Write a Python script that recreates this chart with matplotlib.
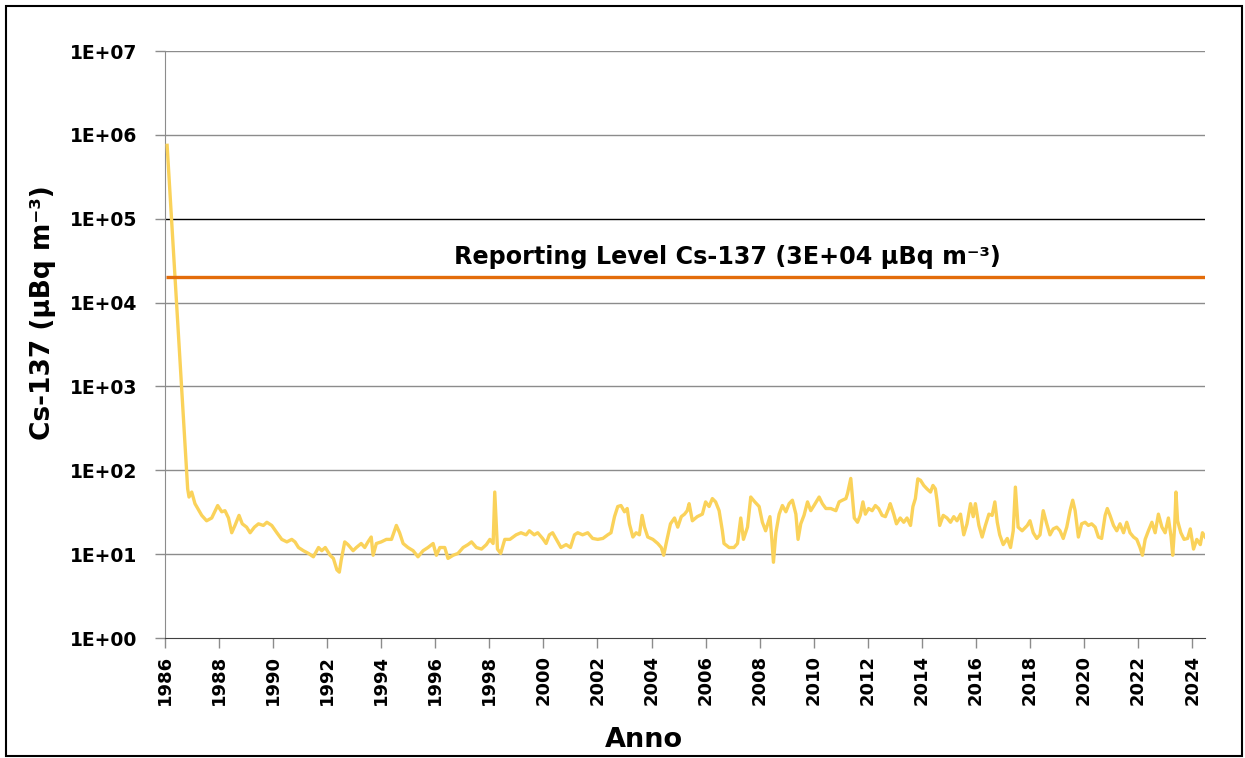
import math
import matplotlib
matplotlib.use("Agg")
import matplotlib.pyplot as plt
from matplotlib.patches import Rectangle
from matplotlib.ticker import FixedLocator, FuncFormatter, NullLocator

# Cs-137 in air (uBq/m3), split by period
anni_a = [1986.08, 1986.84, 1986.89, 1986.99, 1987.11, 1987.36, 1987.54, 1987.73, 1987.95, 1988.10,
          1988.22, 1988.35, 1988.47, 1988.59, 1988.74, 1988.86, 1989.02, 1989.15, 1989.31, 1989.46,
          1989.64, 1989.77, 1989.95, 1990.14, 1990.32, 1990.51, 1990.69, 1990.81, 1990.94, 1991.12,
          1991.31, 1991.49, 1991.68, 1991.80, 1991.93, 1992.11, 1992.23, 1992.36]
cs_a = [750000, 60, 48, 55, 40, 29, 25, 27, 38, 32,
        33, 27, 18, 22, 29, 23, 21, 18, 21, 23,
        22, 24, 22, 18, 15, 14, 15, 14, 12, 11,
        10.2, 9.3, 12, 11, 12, 9.7, 8.9, 6.5]

anni_b = [1992.45, 1992.52, 1992.65, 1992.77, 1992.96, 1993.08, 1993.26, 1993.39, 1993.51, 1993.63,
          1993.70, 1993.82, 1994.00, 1994.19, 1994.38, 1994.56, 1994.68, 1994.81, 1994.99, 1995.18,
          1995.36, 1995.55, 1995.73, 1995.92, 1996.04, 1996.17, 1996.35, 1996.47, 1996.66, 1996.84,
          1997.03, 1997.21, 1997.34, 1997.52, 1997.71, 1997.89, 1998.02, 1998.14, 1998.20, 1998.30,
          1998.42, 1998.57, 1998.76]
cs_b = [6.1, 8.5, 14, 13, 11, 12, 13.4, 12, 14, 16,
        9.7, 13.4, 14, 15, 15, 22, 18, 13.4, 12, 11,
        9.3, 11, 12, 13.4, 9.7, 12, 12, 8.9, 9.7, 10.2,
        12, 13, 14, 12, 11.5, 13, 15, 13.4, 55, 11.5,
        10.2, 15, 15]

anni_c = [1998.99, 1999.17, 1999.36, 1999.48, 1999.66, 1999.79, 1999.97, 2000.10, 2000.22, 2000.34,
          2000.53, 2000.65, 2000.84, 2001.00, 2001.15, 2001.27, 2001.45, 2001.64, 2001.82, 2002.01,
          2002.20, 2002.38, 2002.50, 2002.63, 2002.75, 2002.87, 2003.00, 2003.10, 2003.18, 2003.31,
          2003.43, 2003.55, 2003.65, 2003.74, 2003.86, 2004.05, 2004.23, 2004.36, 2004.45, 2004.54,
          2004.70, 2004.85, 2004.97, 2005.10]
cs_c = [17, 18, 17, 19, 17, 18, 15.4, 13.4, 17, 18,
        14, 12, 13, 12, 17, 18, 17, 18, 15.4, 15,
        15.4, 17, 18, 28, 37, 38, 32, 35, 23, 16,
        18, 17, 29, 21, 16, 15, 13.4, 12, 9.7, 13.4,
        23, 27, 21, 28]

anni_d = [2005.22, 2005.32, 2005.39, 2005.51, 2005.69, 2005.88, 2006.00, 2006.13, 2006.25, 2006.37,
          2006.50, 2006.62, 2006.68, 2006.87, 2007.05, 2007.18, 2007.30, 2007.40, 2007.55, 2007.67,
          2007.82, 2007.98, 2008.10, 2008.22, 2008.38, 2008.45, 2008.51, 2008.60, 2008.72, 2008.84,
          2008.97, 2009.09, 2009.21, 2009.34, 2009.42, 2009.52, 2009.64, 2009.77, 2009.89, 2010.01,
          2010.20, 2010.32, 2010.45, 2010.63, 2010.82, 2010.94, 2011.06, 2011.19, 2011.25, 2011.37,
          2011.50]
cs_d = [30, 33, 40, 25, 28, 30, 42, 37, 46, 42,
        33, 19, 13.4, 12, 12, 13.4, 27, 15, 21, 48,
        42, 37, 24, 19, 28, 15, 8, 18, 30, 38,
        32, 40, 44, 30, 15, 23, 29, 42, 33, 38,
        48, 40, 35, 35, 33, 42, 44, 46, 53, 80,
        27]

anni_e = [2011.62, 2011.72, 2011.82, 2011.91, 2012.03, 2012.16, 2012.28, 2012.40, 2012.53, 2012.65,
          2012.77, 2012.83, 2012.96, 2013.06, 2013.20, 2013.33, 2013.45, 2013.58, 2013.67, 2013.76,
          2013.85, 2013.95, 2014.07, 2014.19, 2014.32, 2014.41, 2014.50, 2014.56, 2014.66, 2014.79,
          2014.93, 2015.06, 2015.18, 2015.30, 2015.43, 2015.55, 2015.67, 2015.80, 2015.90, 2015.98,
          2016.11, 2016.23, 2016.35, 2016.48, 2016.60, 2016.70, 2016.79, 2016.88, 2017.01, 2017.16,
          2017.28, 2017.38, 2017.46, 2017.56, 2017.71, 2017.90]
cs_e = [24, 29, 42, 30, 35, 33, 38, 35, 29, 28,
        35, 40, 30, 23, 27, 24, 27, 22, 37, 46,
        79, 76, 66, 60, 55, 66, 60, 44, 22, 29,
        27, 24, 28, 25, 30, 17, 23, 40, 28, 40,
        22, 16, 22, 30, 29, 42, 24, 17, 13, 15.4,
        12, 19, 63, 21, 19, 22]

anni_f = [2018.00, 2018.12, 2018.25, 2018.37, 2018.49, 2018.62, 2018.74, 2018.86, 2018.99, 2019.11,
          2019.23, 2019.36, 2019.48, 2019.58, 2019.67, 2019.79, 2019.91, 2020.04, 2020.16, 2020.28,
          2020.41, 2020.53, 2020.65, 2020.78, 2020.86, 2020.96, 2021.09, 2021.21, 2021.33, 2021.46,
          2021.58, 2021.70, 2021.83, 2021.95, 2022.07, 2022.16, 2022.26, 2022.38, 2022.51, 2022.63,
          2022.75, 2022.88, 2023.00, 2023.12, 2023.22, 2023.28, 2023.35, 2023.40, 2023.46, 2023.58,
          2023.70, 2023.83, 2023.93, 2024.05, 2024.17, 2024.30, 2024.38, 2024.48]
cs_f = [25, 18, 15.4, 17, 33, 23, 17, 20, 21, 19,
        15.4, 21, 33, 44, 33, 16, 23, 24, 22, 23,
        21, 16, 15.4, 29, 35, 29, 22, 19, 23, 18,
        24, 18, 16, 15, 12, 9.7, 15, 19, 24, 18,
        30, 21, 18, 27, 16, 9.7, 21, 55, 25, 18,
        15, 15.4, 20, 11.5, 15, 13, 18, 16]

reporting_level = 2e4
anni_tick = list(range(1986, 2025, 2))
decadi = [1, 10, 100, 1e3, 1e4, 1e5, 1e6, 1e7]

anni = anni_a + anni_b + anni_c + anni_d + anni_e + anni_f
cs137 = cs_a + cs_b + cs_c + cs_d + cs_e + cs_f

plt.rcParams['font.family'] = ['DejaVu Sans']
plt.rcParams['font.weight'] = 'bold'

fig = plt.figure(figsize=(12.45, 7.58), dpi=100)
ax = fig.add_axes([0.1325, 0.1583, 0.8355, 0.7744])

ax.set_yscale('log')
ax.set_ylim(1, 1e7)
ax.set_xlim(1986, 2024.48)

# gridlines (the 1E+05 one is darker in the original)
for d in decadi[1:]:
    ax.axhline(d, color='black' if d == 1e5 else '#8c8c8c', lw=1.0, zorder=1)

ax.plot(anni, cs137, color='#fad25a', lw=2.4, solid_joinstyle='round', zorder=3)
ax.hlines(reporting_level, 1986.05, 2024.48, color='#e36c0a', lw=2.4, zorder=4)
ax.text(0.541, 3.5e4, 'Reporting Level Cs-137 (3E+04 \u00b5Bq m\u207b\u00b3)',
        transform=ax.get_yaxis_transform(), ha='center', va='center',
        fontsize=17.2, fontweight='bold')

ax.yaxis.set_major_locator(FixedLocator(decadi))
ax.yaxis.set_minor_locator(NullLocator())
ax.yaxis.set_major_formatter(FuncFormatter(lambda v, p: '1E+%02d' % round(math.log10(v))))
ax.set_xticks(anni_tick)
ax.set_xticklabels([str(a) for a in anni_tick], rotation=90)
ax.tick_params(axis='y', labelsize=13.5, length=7, width=1, color='#8c8c8c', pad=13)
ax.tick_params(axis='x', labelsize=13, length=7, width=1, color='#8c8c8c', pad=5)
for lab in ax.get_xticklabels() + ax.get_yticklabels():
    lab.set_fontweight('bold')

for s in ['top', 'right']:
    ax.spines[s].set_visible(False)
ax.spines['left'].set_color('#8c8c8c')
ax.spines['bottom'].set_color('#404040')

ax.set_ylabel('Cs-137 (\u00b5Bq m\u207b\u00b3)', fontsize=19, fontweight='bold')
ax.yaxis.set_label_coords(-0.105, 0.554)
ax.set_xlabel('Anno', fontsize=19.5, fontweight='bold')
ax.xaxis.set_label_coords(0.46, -0.152)

fig.patches.append(Rectangle((0.0048, 0.003), 0.9928, 0.989, transform=fig.transFigure,
                             fill=False, edgecolor='black', lw=1.5))

fig.savefig('out.png', dpi=100)
